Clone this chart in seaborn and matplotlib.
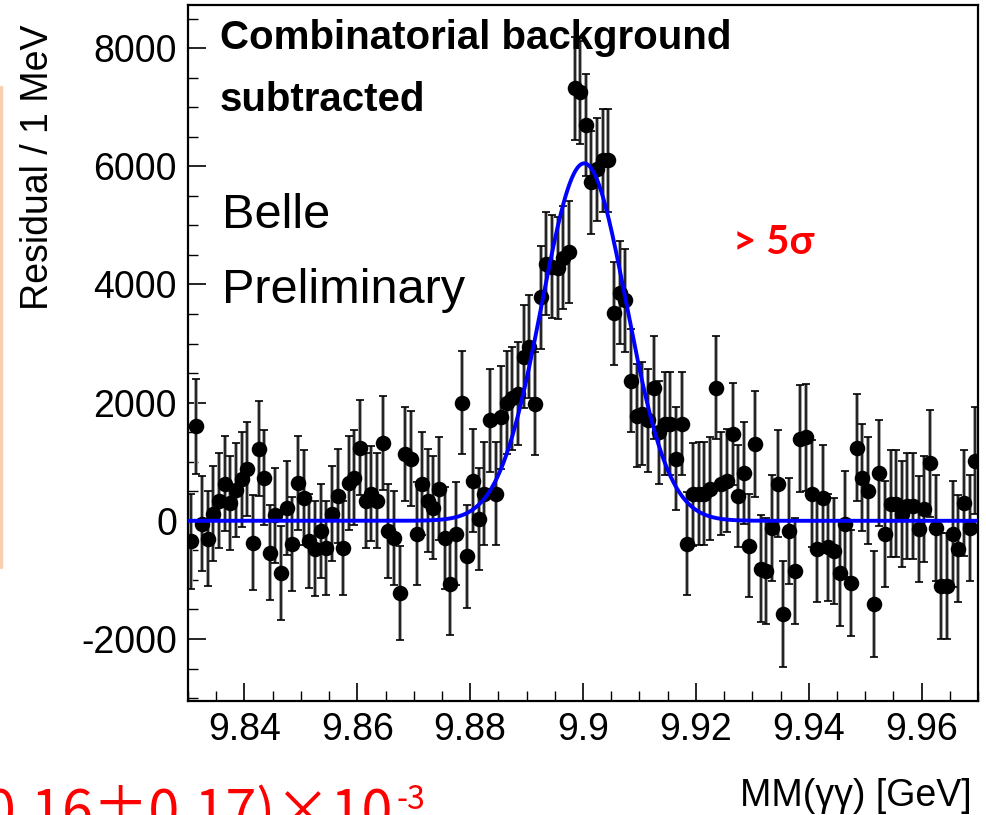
import numpy as np
import pandas as pd
import matplotlib
matplotlib.use("Agg")
import matplotlib.pyplot as plt
import seaborn as sns
from matplotlib.ticker import MultipleLocator, FuncFormatter
from matplotlib.lines import Line2D

# ---------------- data ----------------
x_start = 9.83          # GeV, left edge of first bin
bin_width = 0.001       # 1 MeV bins
n_bins = 140

residual = [
    -350, 1600, -50, -300, 120, 340, 630, 300, 520, 700,
    880, -370, 1220, 730, -540, 90, -880, 220, -390, 640,
    390, -340, -470, -170, -460, 120, 420, -460, 640, 730,
    1240, 340, 460, 340, 1320, -170, -290, -1220, 1130, 1050,
    -220, 630, 340, 220, 540, -290, -1070, -220, 2000, -600,
    680, 30, 460, 1700, 460, 1750, 2000, 2070, 2150, 2780,
    2950, 1980, 3780, 4350, 4300, 4280, 4450, 4550, 7320, 7250,
    6700, 5730, 5950, 6100, 6100, 3510, 3860, 3730, 2370, 1780,
    1810, 1700, 2250, 1500, 1640, 1640, 1050, 1640, -390, 450,
    460, 460, 540, 2250, 630, 680, 1470, 420, 810, -420,
    1300, -810, -850, -120, 630, -1580, -170, -850, 1390, 1410,
    460, -470, 390, -450, -510, -880, -50, -1050, 1240, 730,
    510, -1410, 810, -220, 290, 290, 120, 250, 250, -140,
    200, 970, -120, -1100, -1100, -220, -470, 300, -120, 1020,
]
err = [800] * 40 + [870] * 60 + [900] * 40

# fitted signal (Gaussian) parameters
fit_amp = 6050
fit_mean = 9.9002
fit_sigma = 0.0075

x_ticks = [9.84, 9.86, 9.88, 9.90, 9.92, 9.94, 9.96]
y_ticks = [-2000, 0, 2000, 4000, 6000, 8000]

mass = x_start + bin_width * (np.arange(n_bins) + 0.5)
df = pd.DataFrame({"mass": mass, "residual": residual, "err": err})

x_fit = np.linspace(x_start, x_start + n_bins * bin_width, 800)
y_fit = fit_amp * np.exp(-0.5 * ((x_fit - fit_mean) / fit_sigma) ** 2)
fit_df = pd.DataFrame({"mass": x_fit, "fit": y_fit})

# ---------------- style ----------------
sns.set_theme(style="ticks")
plt.rcParams["font.family"] = ["Liberation Sans", "DejaVu Sans"]
plt.rcParams["axes.unicode_minus"] = False
plt.rcParams["text.color"] = "black"
plt.rcParams["xtick.color"] = "black"
plt.rcParams["ytick.color"] = "black"
plt.rcParams["xtick.labelcolor"] = "black"
plt.rcParams["ytick.labelcolor"] = "black"

W, H = 986, 815
fig = plt.figure(figsize=(W / 100, H / 100), dpi=100)
L, R, T, B = 188, 978, 5, 701
ax = fig.add_axes([L / W, 1 - B / H, (R - L) / W, (B - T) / H])

# error bars (grey halo + black core, like the ROOT rendering)
ax.errorbar(df["mass"], df["residual"], yerr=df["err"], fmt="none",
            ecolor="#a0a0a0", elinewidth=2.8, capsize=0, zorder=2)
ax.errorbar(df["mass"], df["residual"], yerr=df["err"], fmt="none",
            ecolor="black", elinewidth=1.1, capsize=3.2, capthick=1.2, zorder=3)
sns.scatterplot(data=df, x="mass", y="residual", color="black", s=125,
                marker="o", linewidth=0, ax=ax, zorder=4, legend=False)
sns.lineplot(data=fit_df, x="mass", y="fit", color="#0000ff", lw=2.8,
             ax=ax, zorder=5, legend=False)

ax.set_xlim(x_start, x_start + n_bins * bin_width)
ax.set_ylim(-3050, 8730)
ax.set_xticks(x_ticks)
ax.set_yticks(y_ticks)
ax.xaxis.set_minor_locator(MultipleLocator(0.005))
ax.yaxis.set_minor_locator(MultipleLocator(500))
ax.xaxis.set_major_formatter(FuncFormatter(lambda v, p: f"{v:g}"))
ax.yaxis.set_major_formatter(FuncFormatter(lambda v, p: f"{int(round(v))}"))
ax.tick_params(axis="both", which="major", direction="in", length=13,
               width=1.2, color="black", labelcolor="black", labelsize=27,
               pad=8, top=False, right=False)
ax.tick_params(axis="both", which="minor", direction="in", length=7,
               width=1.0, color="black", top=False, right=False)
ax.set_xlabel("")
ax.set_ylabel("")
for s in ax.spines.values():
    s.set_color("black")
    s.set_linewidth(1.6)

# labels
fig.text(0.9858, 1 - 796 / H, "MM(γγ) [GeV]", ha="right", va="center",
         fontsize=27, color="black")
fig.text(38 / W, 1 - 167 / H, "Residual / 1 MeV", rotation=90,
         ha="center", va="center", fontsize=27, color="black")

# in-plot annotations
ax.text(0.0405, 0.9526, "Combinatorial background", transform=ax.transAxes,
        ha="left", va="center", fontsize=29, fontweight="bold", color="black")
ax.text(0.0405, 0.8635, "subtracted", transform=ax.transAxes,
        ha="left", va="center", fontsize=29, fontweight="bold", color="black")
ax.text(0.043, 0.698, "Belle", transform=ax.transAxes,
        ha="left", va="center", fontsize=35, color="black")
ax.text(0.043, 0.5905, "Preliminary", transform=ax.transAxes,
        ha="left", va="center", fontsize=35, color="black")

# slide annotations in red (the slide crop cuts the lower-left text)
fig.text(733 / W, 1 - 243 / H, "> 5σ", ha="left", va="center", color="red",
         fontsize=29, fontweight="bold", family=["Lato", "DejaVu Sans"])
fig.text(393 / W, 1 - 830 / H, "(0.16±0.17)×10", ha="right",
         va="baseline", color="red", fontsize=40,
         family=["Noto Sans CJK SC", "DejaVu Sans"])
fig.text(396 / W, 1 - 809 / H, "-3", ha="left", va="baseline", color="red",
         fontsize=23, family=["Noto Sans CJK SC", "DejaVu Sans"])

# partial box edge at left of slide
fig.add_artist(Line2D([0.0015, 0.0015], [1 - 567 / H, 1 - 87 / H],
                      transform=fig.transFigure, color="#f8cfae", lw=2.5))

fig.savefig("out.png", dpi=100)
